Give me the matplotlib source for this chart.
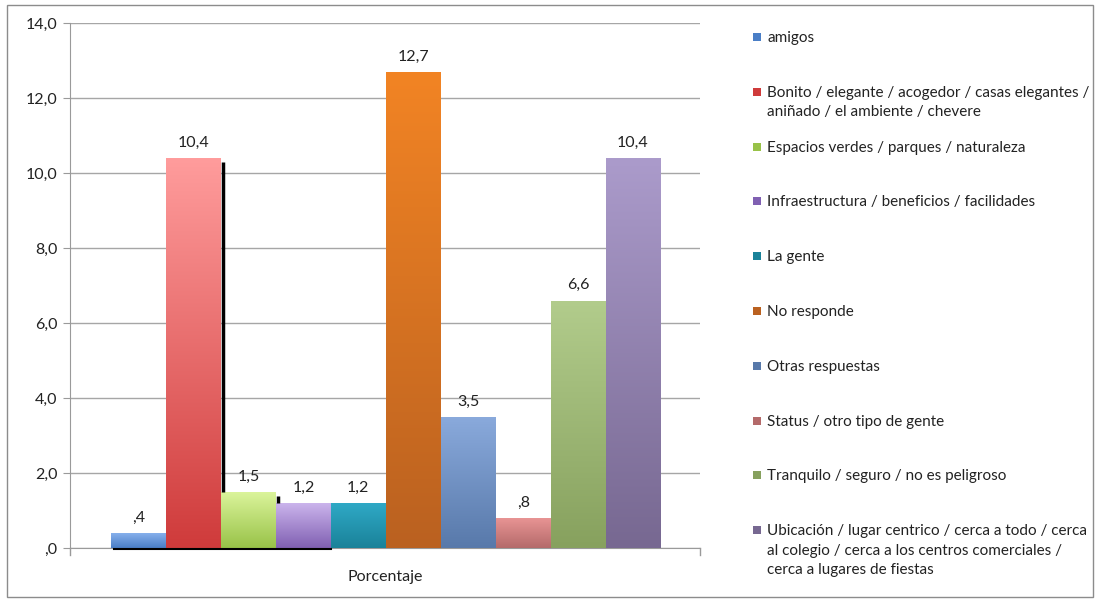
import numpy as np
import matplotlib
matplotlib.use("Agg")
import matplotlib.pyplot as plt
from matplotlib.colors import LinearSegmentedColormap
from matplotlib.patches import Rectangle

plt.rcParams['font.family'] = ['Lato', 'DejaVu Sans']

categories = [
    "amigos",
    "Bonito / elegante / acogedor / casas elegantes /\naniñado / el ambiente / chevere",
    "Espacios verdes / parques / naturaleza",
    "Infraestructura / beneficios / facilidades",
    "La gente",
    "No responde",
    "Otras respuestas",
    "Status / otro tipo de gente",
    "Tranquilo / seguro / no es peligroso",
    "Ubicación / lugar centrico / cerca a todo / cerca\nal colegio / cerca a los centros comerciales /\ncerca a lugares de fiestas",
]
values = [0.4, 10.4, 1.5, 1.2, 1.2, 12.7, 3.5, 0.8, 6.6, 10.4]
top_colors = ['#86b0ec', '#ff9c9c', '#dcf59c', '#cbb4ec', '#2fa9c6', '#f28424',
              '#8aaadc', '#e89494', '#b2cc8c', '#ab9bcb']
bottom_colors = ['#4a7ec6', '#cf3b3b', '#98c248', '#8060b2', '#1a8299', '#ba6120',
                 '#5879aa', '#b46a6a', '#87a15e', '#776891']
axis_label = "Porcentaje"
yticks = [0, 2, 4, 6, 8, 10, 12, 14]


def fmt(v):
    s = f"{v:.1f}".replace('.', ',')
    return s[1:] if s.startswith('0') else s


fig = plt.figure(figsize=(10.99, 6.01), dpi=100)
W, H = 1099, 601
ax = fig.add_axes([70 / W, (H - 548) / H, (700 - 70) / W, (548 - 23) / H])

x = np.arange(len(values))
bars = ax.bar(x, values, width=1.0, color=top_colors, zorder=2)
grad = np.linspace(1, 0, 256).reshape(-1, 1)
for b, c1, c2 in zip(bars, top_colors, bottom_colors):
    cmap = LinearSegmentedColormap.from_list('g', [c2, c1])
    bx, by, bw, bh = b.get_x(), b.get_y(), b.get_width(), b.get_height()
    im = ax.imshow(grad, cmap=cmap, extent=[bx, bx + bw, by, by + bh],
                   aspect='auto', zorder=3, origin='upper', vmin=0, vmax=1)
    im.set_clip_path(b)

# dark shadow edges visible in the reference
for i in (1, 2):
    ax.plot([i + 0.53, i + 0.53], [values[i + 1], values[i] - 0.1], color='black', lw=2.5, zorder=4,
            solid_capstyle='butt')
ax.plot([-0.45, 3.5], [-0.03, -0.03], color='black', lw=1.5, zorder=4, clip_on=False)

for xi, v in zip(x, values):
    ax.annotate(fmt(v), (xi, v), xytext=(0, 11), textcoords='offset points',
                ha='center', va='center', fontsize=11.5, color='#222222', zorder=5)

ax.set_xlim(-1.25, 10.22)
ax.set_ylim(0, 14)
ax.set_yticks(yticks)
ax.set_yticklabels([fmt(t) for t in yticks], fontsize=11.5, color='#222222')
ax.set_xticks([])
ax.grid(axis='y', color='#a6a6a6', lw=1, zorder=0)
ax.set_axisbelow(True)
for s in ('top', 'right'):
    ax.spines[s].set_visible(False)
for s in ('left', 'bottom'):
    ax.spines[s].set_color('#9a9a9a')
ax.tick_params(axis='y', length=5, color='#9a9a9a', pad=4)
ax.plot([10.22, 10.22], [0, -0.18], color='#9a9a9a', lw=1, clip_on=False)
ax.plot([-1.25, -1.25], [0, -0.18], color='#9a9a9a', lw=1, clip_on=False)

fig.text(385 / W, 1 - 577 / H, axis_label, ha='center', va='center', fontsize=11.5, color='#222222')

# legend
for i, (lab, c1, c2) in enumerate(zip(categories, top_colors, bottom_colors)):
    yc = 37 + i * 54.8
    fig.patches.append(Rectangle((753 / W, 1 - (yc + 4) / H), 8 / W, 8 / H,
                                 transform=fig.transFigure, facecolor=c2, edgecolor='none'))
    fig.text(767 / W, 1 - (yc - 6) / H, lab, ha='left', va='top', fontsize=11,
             color='#222222', linespacing=1.5)

fig.patches.append(Rectangle((7 / W, 1 - 597 / H), 1086 / W, 592 / H, transform=fig.transFigure,
                             facecolor='none', edgecolor='#8c8c8c', lw=1))

fig.savefig('out.png', dpi=100)
